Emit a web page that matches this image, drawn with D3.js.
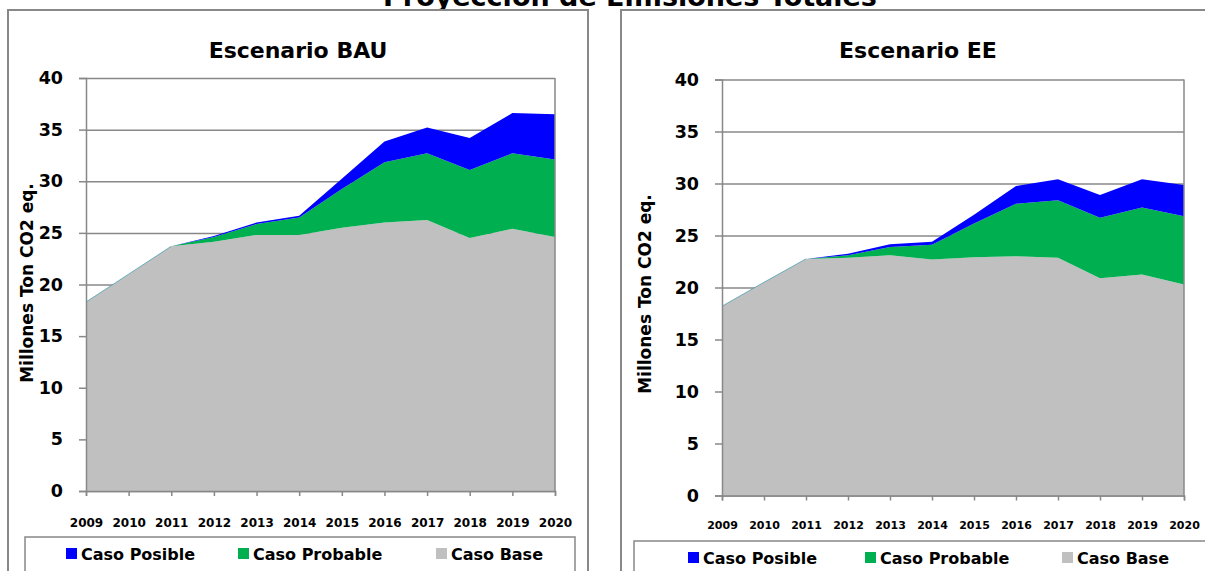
<!DOCTYPE html>
<html>
<head>
<meta charset="utf-8">
<script src="https://cdn.jsdelivr.net/npm/d3@7.9.0/dist/d3.min.js"></script>
<style>
  html, body { margin: 0; padding: 0; background: #fff; }
  svg text { font-family: "DejaVu Sans", sans-serif; font-weight: bold; fill: #000; }
</style>
</head>
<body>
<svg id="chart" width="1205" height="571"></svg>
<script>
// --- data (millones ton CO2 eq.)
const years = [2009, 2010, 2011, 2012, 2013, 2014, 2015, 2016, 2017, 2018, 2019, 2020];

const bauBase     = [18.3, 21.0, 23.7, 24.15, 24.8, 24.8, 25.5, 26.0, 26.25, 24.5, 25.4, 24.6];
const bauProbable = [0, 0, 0, 0.45, 1.05, 1.7, 3.75, 5.85, 6.45, 6.6, 7.3, 7.5];
const bauPosible  = [0, 0, 0, 0.1, 0.15, 0.17, 1.0, 2.0, 2.5, 3.1, 3.9, 4.4];

const eeBase      = [18.2, 20.5, 22.75, 22.85, 23.1, 22.7, 22.9, 23.0, 22.85, 20.9, 21.25, 20.3];
const eeProbable  = [0, 0, 0, 0.25, 0.8, 1.4, 3.25, 5.05, 5.55, 5.8, 6.45, 6.55];
const eePosible   = [0, 0, 0, 0.15, 0.25, 0.3, 0.85, 1.7, 2.0, 2.2, 2.7, 3.0];

const yTicks = [0, 5, 10, 15, 20, 25, 30, 35, 40];
const seriesKeys = ['base', 'probable', 'posible'];
const legendNames = ['Caso Posible', 'Caso Probable', 'Caso Base'];
const legendKeys = ['posible', 'probable', 'base'];
const colors = { base: '#c0c0c0', probable: '#00b050', posible: '#0000ff' };

const svg = d3.select('#chart');

// big title, mostly cut off at the top (as in the original)
svg.append('text')
  .attr('x', 630).attr('y', 6)
  .attr('text-anchor', 'middle')
  .style('font-size', '27px')
  .text('Proyección de Emisiones Totales');

function drawPanel(cfg, base, probable, posible) {
  const g = svg.append('g');

  // outer chart frame
  g.append('rect')
    .attr('x', cfg.frame[0]).attr('y', cfg.frame[1])
    .attr('width', cfg.frame[2]).attr('height', cfg.frame[3])
    .attr('fill', '#fff').attr('stroke', '#888').attr('stroke-width', 2);

  g.append('text')
    .attr('x', cfg.titleX).attr('y', 58)
    .attr('text-anchor', 'middle')
    .style('font-size', '22px')
    .text(cfg.title);

  const x = d3.scalePoint().domain(years).range([cfg.left, cfg.right]);
  const y = d3.scaleLinear().domain([0, 40]).range([cfg.bottom, cfg.top]);

  const rows = years.map((yr, i) => ({ year: yr, base: base[i], probable: probable[i], posible: posible[i] }));
  const stacked = d3.stack().keys(seriesKeys)(rows);

  const area = d3.area()
    .x(d => x(d.data.year))
    .y0(d => y(d[0]))
    .y1(d => y(d[1]));

  // gridlines
  g.append('g')
    .attr('transform', `translate(${cfg.left},0)`)
    .call(d3.axisLeft(y).tickValues(yTicks).tickFormat('').tickSize(-(cfg.right - cfg.left)))
    .call(s => s.select('.domain').remove())
    .call(s => s.selectAll('line').attr('stroke', '#888').attr('stroke-width', 1.5));

  g.append('g').selectAll('path')
    .data(stacked)
    .join('path')
    .attr('fill', d => colors[d.key])
    .attr('d', area);

  // thin outline where the stacked layers are still zero
  g.append('path')
    .datum(stacked[2].slice(0, 3))
    .attr('fill', 'none')
    .attr('stroke', '#4a9fae')
    .attr('stroke-width', 0.8)
    .attr('d', d3.line().x(d => x(d.data.year)).y(d => y(d[1])));

  // plot border right side
  g.append('line')
    .attr('x1', cfg.right).attr('x2', cfg.right)
    .attr('y1', cfg.top).attr('y2', cfg.bottom)
    .attr('stroke', '#888').attr('stroke-width', 1.5);

  // y axis
  g.append('g')
    .attr('transform', `translate(${cfg.left},0)`)
    .call(d3.axisLeft(y).tickValues(yTicks).tickSize(7).tickPadding(16))
    .call(s => s.select('.domain').attr('stroke', '#888').attr('stroke-width', 1.5))
    .call(s => s.selectAll('line').attr('stroke', '#888').attr('stroke-width', 1.5))
    .call(s => s.selectAll('text').style('font-size', '17.5px').style('font-family', null).attr('fill', '#000'));

  // x axis
  g.append('g')
    .attr('transform', `translate(0,${cfg.bottom})`)
    .call(d3.axisBottom(x).tickSize(5).tickPadding(cfg.xPad))
    .call(s => s.select('.domain').attr('stroke', '#888').attr('stroke-width', 1.5))
    .call(s => s.selectAll('line').attr('stroke', '#888').attr('stroke-width', 1.5))
    .call(s => s.selectAll('text').style('font-size', cfg.xFont).style('font-family', null).attr('fill', '#000'));

  // y axis title
  g.append('text')
    .attr('transform', `translate(${cfg.yLabelX},${cfg.yLabelY}) rotate(-90)`)
    .attr('text-anchor', 'middle')
    .style('font-size', '17px')
    .text('Millones Ton CO2 eq.');

  // legend
  g.append('rect')
    .attr('x', cfg.legend[0]).attr('y', cfg.legend[1])
    .attr('width', cfg.legend[2]).attr('height', 60)
    .attr('fill', '#fff').attr('stroke', '#888').attr('stroke-width', 1.5);

  const items = g.append('g').selectAll('g')
    .data(legendKeys)
    .join('g')
    .attr('transform', (d, i) => `translate(${cfg.legendX[i]},${cfg.legendY})`);
  items.append('rect')
    .attr('x', 0).attr('y', -6).attr('width', 11).attr('height', 11)
    .attr('fill', d => colors[d]);
  items.append('text')
    .attr('x', 15).attr('y', 6)
    .style('font-size', '16px')
    .text((d, i) => legendNames[i]);
}

drawPanel({
  frame: [8, 10, 580, 600],
  title: 'Escenario BAU', titleX: 298,
  left: 86, right: 555, top: 78, bottom: 491,
  xPad: 22, xFont: '12px',
  yLabelX: 33, yLabelY: 283,
  legend: [25, 537, 550],
  legendX: [66, 238, 436], legendY: 554
}, bauBase, bauProbable, bauPosible);

drawPanel({
  frame: [621, 10, 600, 600],
  title: 'Escenario EE', titleX: 918,
  left: 722, right: 1184, top: 79.5, bottom: 495.5,
  xPad: 21, xFont: '11px',
  yLabelX: 651, yLabelY: 294,
  legend: [634, 541, 600],
  legendX: [688, 865, 1062], legendY: 558
}, eeBase, eeProbable, eePosible);
</script>
</body>
</html>
